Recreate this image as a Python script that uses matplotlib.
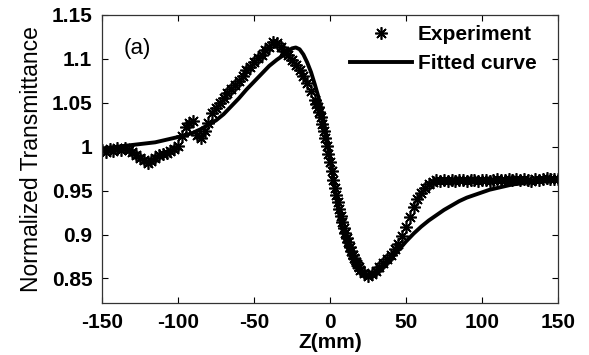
import matplotlib
matplotlib.use("Agg")
import matplotlib.pyplot as plt

# ---- data ----
z_exp = [-150, -147.5, -145, -142.5, -140, -137.5, -135, -132.5, -130, -127.5,
         -125, -122.5, -120, -117.5, -115, -112.5, -110, -107.5, -105, -102.5,
         -100, -97.5, -95, -92.5, -90, -87.5, -85, -82.5, -80, -77.5,
         -75, -72.5, -70, -67.5, -65, -62.5, -60, -57.5, -55, -52.5,
         -50, -47.5, -45, -42.5, -40, -37.5, -35, -32.5, -30, -27.5,
         -25, -22.5, -20, -17.5, -15, -12.5, -10,
         -9, -8, -7, -6, -5, -4, -3, -2, -1, 0,
         1, 2, 3, 4, 5, 6, 7, 8, 9, 10,
         11, 12, 13, 14, 15, 16, 17, 18, 19,
         20, 22.5, 25, 27.5, 30, 32.5, 35, 37.5, 40, 42.5,
         45, 47.5, 50, 52.5, 55, 57.5, 60, 62.5, 65, 67.5,
         70, 72.5, 75, 77.5, 80, 82.5, 85, 87.5, 90, 92.5,
         95, 97.5, 100, 102.5, 105, 107.5, 110, 112.5, 115, 117.5,
         120, 122.5, 125, 127.5, 130, 132.5, 135, 137.5, 140, 142.5,
         145, 147.5, 150]
t_exp = [0.996, 0.994, 0.997, 0.995, 0.998, 0.996, 0.999, 0.996, 0.994, 0.990,
         0.987, 0.985, 0.982, 0.984, 0.987, 0.990, 0.992, 0.993, 0.995, 0.997,
         1.001, 1.012, 1.023, 1.027, 1.029, 1.013, 1.010, 1.018, 1.027, 1.038,
         1.044, 1.050, 1.055, 1.061, 1.066, 1.070, 1.075, 1.081, 1.087, 1.091,
         1.096, 1.101, 1.105, 1.110, 1.114, 1.119, 1.118, 1.114, 1.109, 1.104,
         1.099, 1.093, 1.087, 1.081, 1.073, 1.063, 1.053,
         1.049, 1.045, 1.040, 1.034, 1.026, 1.018, 1.010, 1.001, 0.992, 0.983,
         0.972, 0.962, 0.953, 0.945, 0.937, 0.929, 0.921, 0.914, 0.907, 0.902,
         0.896, 0.891, 0.886, 0.881, 0.877, 0.873, 0.869, 0.866, 0.863,
         0.860, 0.856, 0.853, 0.855, 0.858, 0.863, 0.867, 0.872, 0.877, 0.883,
         0.889, 0.898, 0.909, 0.920, 0.931, 0.940, 0.947, 0.953, 0.957, 0.960,
         0.962, 0.961, 0.962, 0.961, 0.962, 0.961, 0.962, 0.962, 0.961, 0.962,
         0.962, 0.961, 0.962, 0.962, 0.961, 0.962, 0.963, 0.962, 0.962, 0.963,
         0.962, 0.963, 0.962, 0.963, 0.962, 0.961, 0.963, 0.962, 0.963, 0.964,
         0.963, 0.963, 0.963]

z_fit = [-150, -145, -140, -135, -130, -125, -120, -115, -110, -105,
         -100, -95, -90, -85, -80, -75, -70, -65, -60, -55,
         -50, -45, -40, -35, -30, -27.5, -25, -22.5, -20, -17.5,
         -15, -12.5, -10, -7.5, -5, -2.5, 0, 2.5, 5, 7.5,
         10, 12.5, 15, 17.5, 20, 22.5, 25, 27.5, 30, 35, 40, 45,
         50, 55, 60, 65, 70, 75, 80, 85, 90, 95,
         100, 105, 110, 115, 120, 125, 130, 135, 140, 145, 150]
t_fit = [0.998, 0.999, 1.000, 1.001, 1.002, 1.003, 1.004, 1.005, 1.007, 1.009,
         1.011, 1.013, 1.016, 1.020, 1.025, 1.030, 1.037, 1.046, 1.055, 1.065,
         1.074, 1.083, 1.092, 1.099, 1.105, 1.109, 1.112, 1.113, 1.111, 1.105,
         1.096, 1.085, 1.071, 1.056, 1.037, 1.015, 0.990, 0.960, 0.932, 0.910,
         0.893, 0.880, 0.870, 0.862, 0.856, 0.852, 0.851, 0.852, 0.855, 0.863, 0.872, 0.882,
         0.892, 0.901, 0.909, 0.916, 0.922, 0.928, 0.933, 0.938, 0.942, 0.945,
         0.948, 0.951, 0.953, 0.955, 0.957, 0.958, 0.959, 0.960, 0.961, 0.961, 0.962]

x_ticks = [-150, -100, -50, 0, 50, 100, 150]
y_ticks = [0.85, 0.9, 0.95, 1.0, 1.05, 1.1, 1.15]
y_tick_labels = ["0.85", "0.9", "0.95", "1", "1.05", "1.1", "1.15"]

plt.rcParams['font.family'] = ['Liberation Sans', 'DejaVu Sans']

fig = plt.figure(figsize=(5.89, 3.55), dpi=100)
ax = fig.add_axes([102/589, 1 - 303/355, (558-102)/589, (303-15)/355])

asterisk = (8, 2, 0)
ax.plot(z_exp, t_exp, linestyle='none', marker=asterisk, markersize=9,
        markeredgewidth=1.2, color='black', label='Experiment')
ax.plot(z_fit, t_fit, '-', color='black', linewidth=2.8, label='Fitted curve',
        solid_joinstyle='round')

ax.set_xlim(-150, 150)
ax.set_ylim(0.822, 1.15)
ax.set_xticks(x_ticks)
ax.set_xticklabels([str(v) for v in x_ticks])
ax.set_yticks(y_ticks)
ax.set_yticklabels(y_tick_labels)
ax.tick_params(direction='in', length=4, width=0.8, top=True, right=True,
               labelsize=15, pad=7)
for lab in ax.get_xticklabels() + ax.get_yticklabels():
    lab.set_fontweight('bold')
for sp in ax.spines.values():
    sp.set_linewidth(0.9)
    sp.set_color('#333333')

ax.set_xlabel('Z(mm)', fontsize=15, fontweight='bold', labelpad=1)
ax.set_ylabel('Normalized Transmittance', fontsize=16.5, labelpad=6)

ax.text(-136, 1.112, '(a)', fontsize=16, va='center', ha='left')

leg = ax.legend(loc='upper left', bbox_to_anchor=(350/589, 1 - 25/355),
                bbox_transform=fig.transFigure, frameon=False,
                prop={'weight': 'bold', 'size': 15}, handlelength=3.0,
                handletextpad=0.25, labelspacing=0.5, borderpad=0,
                borderaxespad=0)

fig.savefig('out.png', dpi=100)
